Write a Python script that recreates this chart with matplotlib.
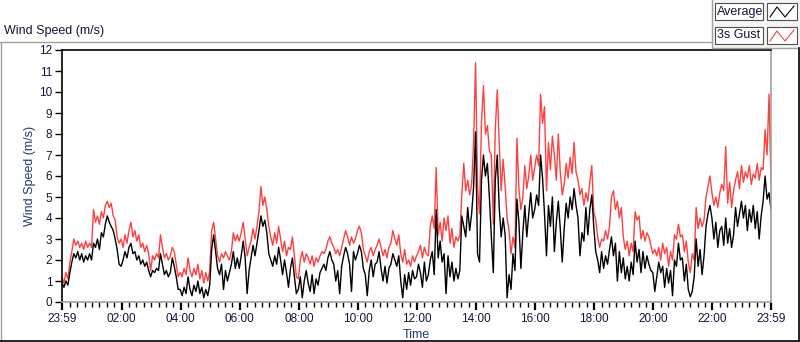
import numpy as np
import matplotlib
matplotlib.use("Agg")
import matplotlib.pyplot as plt
from matplotlib.lines import Line2D
from matplotlib.patches import Rectangle

# samples every 4 minutes, starting at 23:59 of the previous day
SAMPLE_STEP = 4
minutes = np.arange(0, 24 * 60 + 1, SAMPLE_STEP)

# 3 s gust (m/s), one row per hour
gust = [
    1.2, 0.9, 1.4, 1.1, 1.9, 2.4, 3.0, 2.7, 2.9, 2.6, 2.8, 2.5, 2.9, 2.6, 2.8,
    2.6, 4.4, 3.8, 4.1, 3.7, 4.3, 4.0, 4.6, 4.8, 4.5, 4.7, 4.1, 3.9, 3.1, 2.8,
    3.0, 2.6, 3.2, 2.8, 3.4, 3.8, 3.1, 3.4, 2.9, 3.2, 2.6, 2.8, 2.4, 2.7, 2.3,
    1.5, 2.2, 2.0, 2.3, 2.1, 3.2, 2.6, 2.1, 2.3, 2.0, 2.2, 2.6, 2.4, 1.8, 1.2,
    1.4, 1.2, 1.6, 1.3, 2.1, 1.5, 1.2, 1.6, 1.3, 1.8, 1.1, 1.5, 0.9, 1.4, 1.0,
    1.5, 3.4, 3.8, 3.0, 2.2, 1.9, 2.3, 2.1, 2.4, 2.2, 2.0, 2.4, 3.3, 2.9, 3.2,
    2.9, 3.3, 3.8, 3.0, 2.2, 2.6, 2.9, 3.5, 3.0, 3.6, 4.3, 5.5, 4.6, 5.0, 4.4,
    3.6, 3.1, 2.7, 3.3, 2.8, 3.6, 3.0, 2.4, 2.9, 2.2, 2.6, 2.5, 3.1, 2.2, 1.2,
    1.1, 2.0, 2.4, 1.9, 2.3, 2.1, 1.8, 2.2, 1.7, 2.1, 1.9, 2.2, 2.4, 2.3, 2.5,
    2.9, 3.1, 2.8, 2.6, 2.3, 2.5, 2.2, 2.6, 3.0, 3.4, 3.1, 2.7, 3.1, 2.8, 3.0,
    3.4, 3.6, 3.3, 2.5, 2.2, 1.9, 2.4, 2.6, 2.2, 2.5, 2.7, 3.0, 2.6, 2.2, 2.5,
    2.1, 2.6, 2.8, 3.4, 3.0, 2.7, 3.2, 2.3, 1.9, 2.5, 1.8, 2.0, 1.7, 2.2, 1.9,
    2.2, 2.4, 2.7, 2.1, 2.6, 2.3, 2.2, 3.6, 4.1, 3.5, 6.4, 3.2, 3.8, 2.9, 4.0,
    3.4, 4.1, 2.8, 3.5, 2.6, 3.1, 2.9, 3.2, 5.1, 6.6, 5.3, 5.8, 5.1, 5.6, 7.6,
    11.4, 5.5, 4.2, 8.6, 10.3, 8.0, 8.4, 7.2, 7.0, 3.7, 8.2, 10.1, 7.6, 5.3, 6.8,
    5.5, 4.0, 3.4, 2.3, 3.1, 2.6, 7.8, 5.4, 4.4, 5.0, 6.5, 5.4, 6.0, 7.0, 5.8,
    6.4, 7.0, 6.5, 9.9, 8.5, 9.3, 5.3, 7.6, 6.3, 7.9, 7.0, 5.8, 8.0, 6.2, 5.1,
    5.6, 6.6, 5.9, 6.9, 6.1, 7.6, 6.2, 5.8, 5.1, 5.4, 4.6, 5.2, 4.8, 5.7, 6.5,
    4.3, 3.9, 3.1, 2.6, 3.0, 2.9, 3.4, 3.0, 3.6, 5.0, 5.3, 4.4, 4.8, 4.0, 4.5,
    3.1, 2.5, 2.9, 2.2, 2.8, 2.4, 4.3, 3.9, 4.1, 3.0, 3.4, 2.9, 3.3, 3.1, 2.7,
    2.3, 2.5, 2.2, 2.6, 2.0, 2.8, 2.3, 2.6, 1.7, 2.4, 2.0, 3.2, 3.0, 3.7, 3.1,
    3.2, 2.4, 2.9, 1.9, 1.4, 2.3, 2.0, 4.5, 3.5, 4.0, 3.6, 3.9, 5.0, 5.5, 6.0,
    5.2, 4.6, 5.0, 4.5, 5.2, 5.6, 5.3, 7.4, 4.7, 5.7, 4.5, 5.3, 5.8, 6.2, 5.4,
    6.5, 5.7, 6.2, 5.9, 6.5, 5.6, 6.1, 5.9, 6.6, 5.8, 6.4, 6.3, 8.2, 7.0, 9.9,
    5.6,
]

# average wind speed (m/s), one row per hour
average = [
    0.9, 0.7, 1.0, 0.8, 1.4, 1.9, 2.3, 2.1, 2.4, 2.0, 2.3, 1.9, 2.2, 2.0, 2.3,
    2.0, 2.8, 2.6, 3.0, 2.5, 3.3, 3.1, 3.7, 4.1, 3.8, 3.6, 3.4, 3.0, 2.5, 1.8,
    1.7, 2.0, 2.4, 2.1, 2.6, 2.8, 2.3, 2.4, 2.0, 2.2, 1.8, 2.0, 1.7, 1.9, 1.5,
    1.2, 1.5, 1.4, 1.6, 1.5, 2.3, 1.8, 1.3, 1.5, 1.2, 1.4, 2.1, 1.7, 1.2, 0.6,
    0.6, 0.3, 0.7, 0.4, 1.2, 0.6, 0.3, 0.8, 0.5, 1.0, 0.4, 0.7, 0.2, 0.6, 0.3,
    0.8, 2.5, 3.2, 2.4, 1.6, 1.3, 1.8, 0.6, 1.5, 1.0, 1.4, 1.8, 2.4, 1.6, 2.1,
    1.6, 2.2, 2.9, 2.1, 0.4, 1.5, 2.1, 2.7, 2.2, 2.8, 3.4, 4.1, 3.6, 3.9, 3.3,
    2.3, 2.0, 1.7, 2.2, 1.8, 2.6, 2.0, 1.3, 2.0, 1.4, 0.7, 1.6, 2.1, 1.2, 0.4,
    0.6, 1.2, 0.2, 1.0, 1.5, 0.9, 0.5, 1.3, 0.4, 1.1, 0.8, 1.4, 1.6, 1.8, 1.5,
    2.1, 2.4, 2.0, 1.8, 1.0, 1.5, 0.4, 1.7, 2.2, 2.6, 2.3, 1.8, 0.5, 2.4, 2.0,
    2.3, 2.7, 2.4, 1.6, 1.3, 0.3, 1.5, 2.0, 1.2, 1.8, 1.9, 2.4, 1.6, 1.0, 1.7,
    0.9, 1.6, 1.8, 2.3, 2.0, 1.7, 2.2, 1.0, 0.2, 1.3, 0.6, 1.4, 0.8, 1.5, 1.1,
    1.2, 1.8, 1.4, 0.7, 1.9, 1.0, 1.3, 2.0, 2.4, 1.3, 4.4, 2.1, 2.9, 1.9, 2.3,
    0.4, 2.2, 1.2, 1.9, 1.0, 1.6, 1.1, 1.5, 4.1, 3.6, 3.1, 4.5, 3.4, 4.2, 5.5,
    8.1, 2.3, 1.9, 5.8, 7.0, 6.0, 6.6, 5.0, 3.1, 1.4, 5.8, 7.0, 4.5, 3.1, 4.0,
    3.2, 0.2, 1.3, 0.6, 2.3, 1.5, 4.9, 3.8, 1.6, 3.3, 4.6, 3.1, 4.2, 5.2, 4.0,
    4.4, 5.1, 4.6, 7.0, 5.9, 4.2, 2.2, 4.6, 3.6, 5.0, 2.4, 3.8, 4.8, 3.5, 1.9,
    3.5, 4.7, 4.0, 5.0, 4.4, 5.4, 4.6, 4.0, 2.2, 3.3, 2.9, 4.5, 3.2, 4.4, 5.1,
    3.6, 2.4, 2.0, 1.4, 2.4, 1.6, 2.2, 1.8, 2.5, 3.1, 2.2, 2.8, 1.0, 2.4, 1.4,
    2.1, 1.1, 1.7, 1.0, 1.9, 1.3, 2.9, 1.9, 2.5, 1.4, 2.4, 1.6, 2.2, 1.8, 1.5,
    1.4, 0.5, 1.2, 1.9, 1.4, 1.7, 0.7, 1.6, 0.9, 1.5, 0.3, 2.0, 1.7, 2.8, 2.0,
    2.1, 1.0, 1.8, 0.6, 0.25, 0.5, 1.2, 3.0, 1.7, 2.5, 1.3, 2.2, 3.6, 4.2, 4.6,
    4.0, 3.0, 3.8, 2.6, 3.4, 3.6, 2.7, 4.0, 2.8, 3.5, 2.6, 3.2, 4.5, 3.6, 4.2,
    4.8, 4.0, 4.6, 3.4, 4.4, 3.8, 4.6, 3.5, 4.3, 3.0, 4.1, 4.8, 6.0, 4.9, 5.2,
    4.4,
]

time_labels = ["23:59", "02:00", "04:00", "06:00", "08:00", "10:00", "12:00",
               "14:00", "16:00", "18:00", "20:00", "22:00", "23:59"]
y_ticks = list(range(0, 13))

GUST_COLOR = "#ff4040"
TEXT_COLOR = "#15153a"
LABEL_COLOR = "#1f3a73"
GREY = "#a0a0a0"
W, H = 800, 342


def fx(px):
    return px / W


def fy(py):
    return 1 - py / H


def label_to_minute(lbl, idx):
    if idx == len(time_labels) - 1:
        return 24 * 60
    h, m = (int(v) for v in lbl.split(":"))
    return (h * 60 + m + 1) % (24 * 60)


plt.rcParams["font.family"] = ["Liberation Sans", "DejaVu Sans"]

fig = plt.figure(figsize=(W / 100, H / 100), dpi=100)
fig.patch.set_facecolor("white")

# plot area
left, right, top, bottom = 62, 771, 50, 302
ax = fig.add_axes([fx(left), fy(bottom), fx(right) - fx(left), fy(top) - fy(bottom)])
ax.plot(minutes, gust, color=GUST_COLOR, linewidth=1.0)
ax.plot(minutes, average, color="black", linewidth=1.0)

ax.set_xlim(0, 24 * 60)
ax.set_ylim(0, 12)
ax.set_yticks(y_ticks)
ax.set_yticklabels([str(v) for v in y_ticks])
ax.set_xticks([label_to_minute(l, i) for i, l in enumerate(time_labels)])
ax.set_xticklabels(time_labels)
ax.set_xticks(np.arange(16, 24 * 60, 15), minor=True)

ax.tick_params(axis="both", which="major", direction="out", colors="black",
               labelcolor=TEXT_COLOR, labelsize=8.5, width=1)
ax.tick_params(axis="x", which="major", length=6, width=1.6, pad=2)
ax.tick_params(axis="x", which="minor", length=3.5, width=1, colors="black")
ax.tick_params(axis="y", which="major", length=5, pad=2)

ax.spines["left"].set_color("black")
ax.spines["top"].set_color("black")
ax.spines["right"].set_color(GREY)
ax.spines["bottom"].set_color(GREY)
for s in ax.spines.values():
    s.set_linewidth(1.2)

ax.set_xlabel("Time", color=LABEL_COLOR, fontsize=9, labelpad=3)
ax.set_ylabel("Wind Speed (m/s)", color=LABEL_COLOR, fontsize=9, labelpad=2)

# outer frame
fig.add_artist(Line2D([fx(0), fx(712)], [fy(42), fy(42)], color=GREY, lw=1))
fig.add_artist(Line2D([fx(1), fx(1)], [fy(42), fy(341)], color=GREY, lw=1))
fig.add_artist(Line2D([fx(0), fx(799)], [fy(340.5), fy(340.5)], color="black", lw=1.2))
fig.add_artist(Line2D([fx(798.5), fx(798.5)], [fy(48), fy(341)], color="black", lw=1.2))

fig.text(fx(4), fy(31), "Wind Speed (m/s)", color=TEXT_COLOR, fontsize=9,
         ha="left", va="center")

# legend panel
fig.add_artist(Rectangle((fx(712), fy(48)), fx(800) - fx(712), fy(0) - fy(48),
                         transform=fig.transFigure, facecolor="#f4f4f4",
                         edgecolor="none"))
fig.add_artist(Line2D([fx(712), fx(712)], [fy(0), fy(48)], color=GREY, lw=1))
fig.add_artist(Line2D([fx(712), fx(797)], [fy(48), fy(48)], color=GREY, lw=1))

entries = [("Average", "black", 3), ("3s Gust", GUST_COLOR, 27)]
for name, col, y0 in entries:
    fig.add_artist(Rectangle((fx(715), fy(y0 + 17)), fx(763) - fx(715), fy(y0) - fy(y0 + 17),
                             transform=fig.transFigure, facecolor="white",
                             edgecolor="#505050", lw=0.8))
    fig.text(fx(717), fy(y0 + 8.5), name, color=TEXT_COLOR, fontsize=9,
             ha="left", va="center")
    fig.add_artist(Rectangle((fx(767), fy(y0 + 17)), fx(797) - fx(767), fy(y0) - fy(y0 + 17),
                             transform=fig.transFigure, facecolor="white",
                             edgecolor="#505050", lw=0.8))
    fig.add_artist(Line2D([fx(770), fx(777), fx(785), fx(794)],
                          [fy(y0 + 14), fy(y0 + 4), fy(y0 + 14), fy(y0 + 3)],
                          color=col, lw=0.8))

fig.savefig("out.png", dpi=100, facecolor=fig.get_facecolor())
